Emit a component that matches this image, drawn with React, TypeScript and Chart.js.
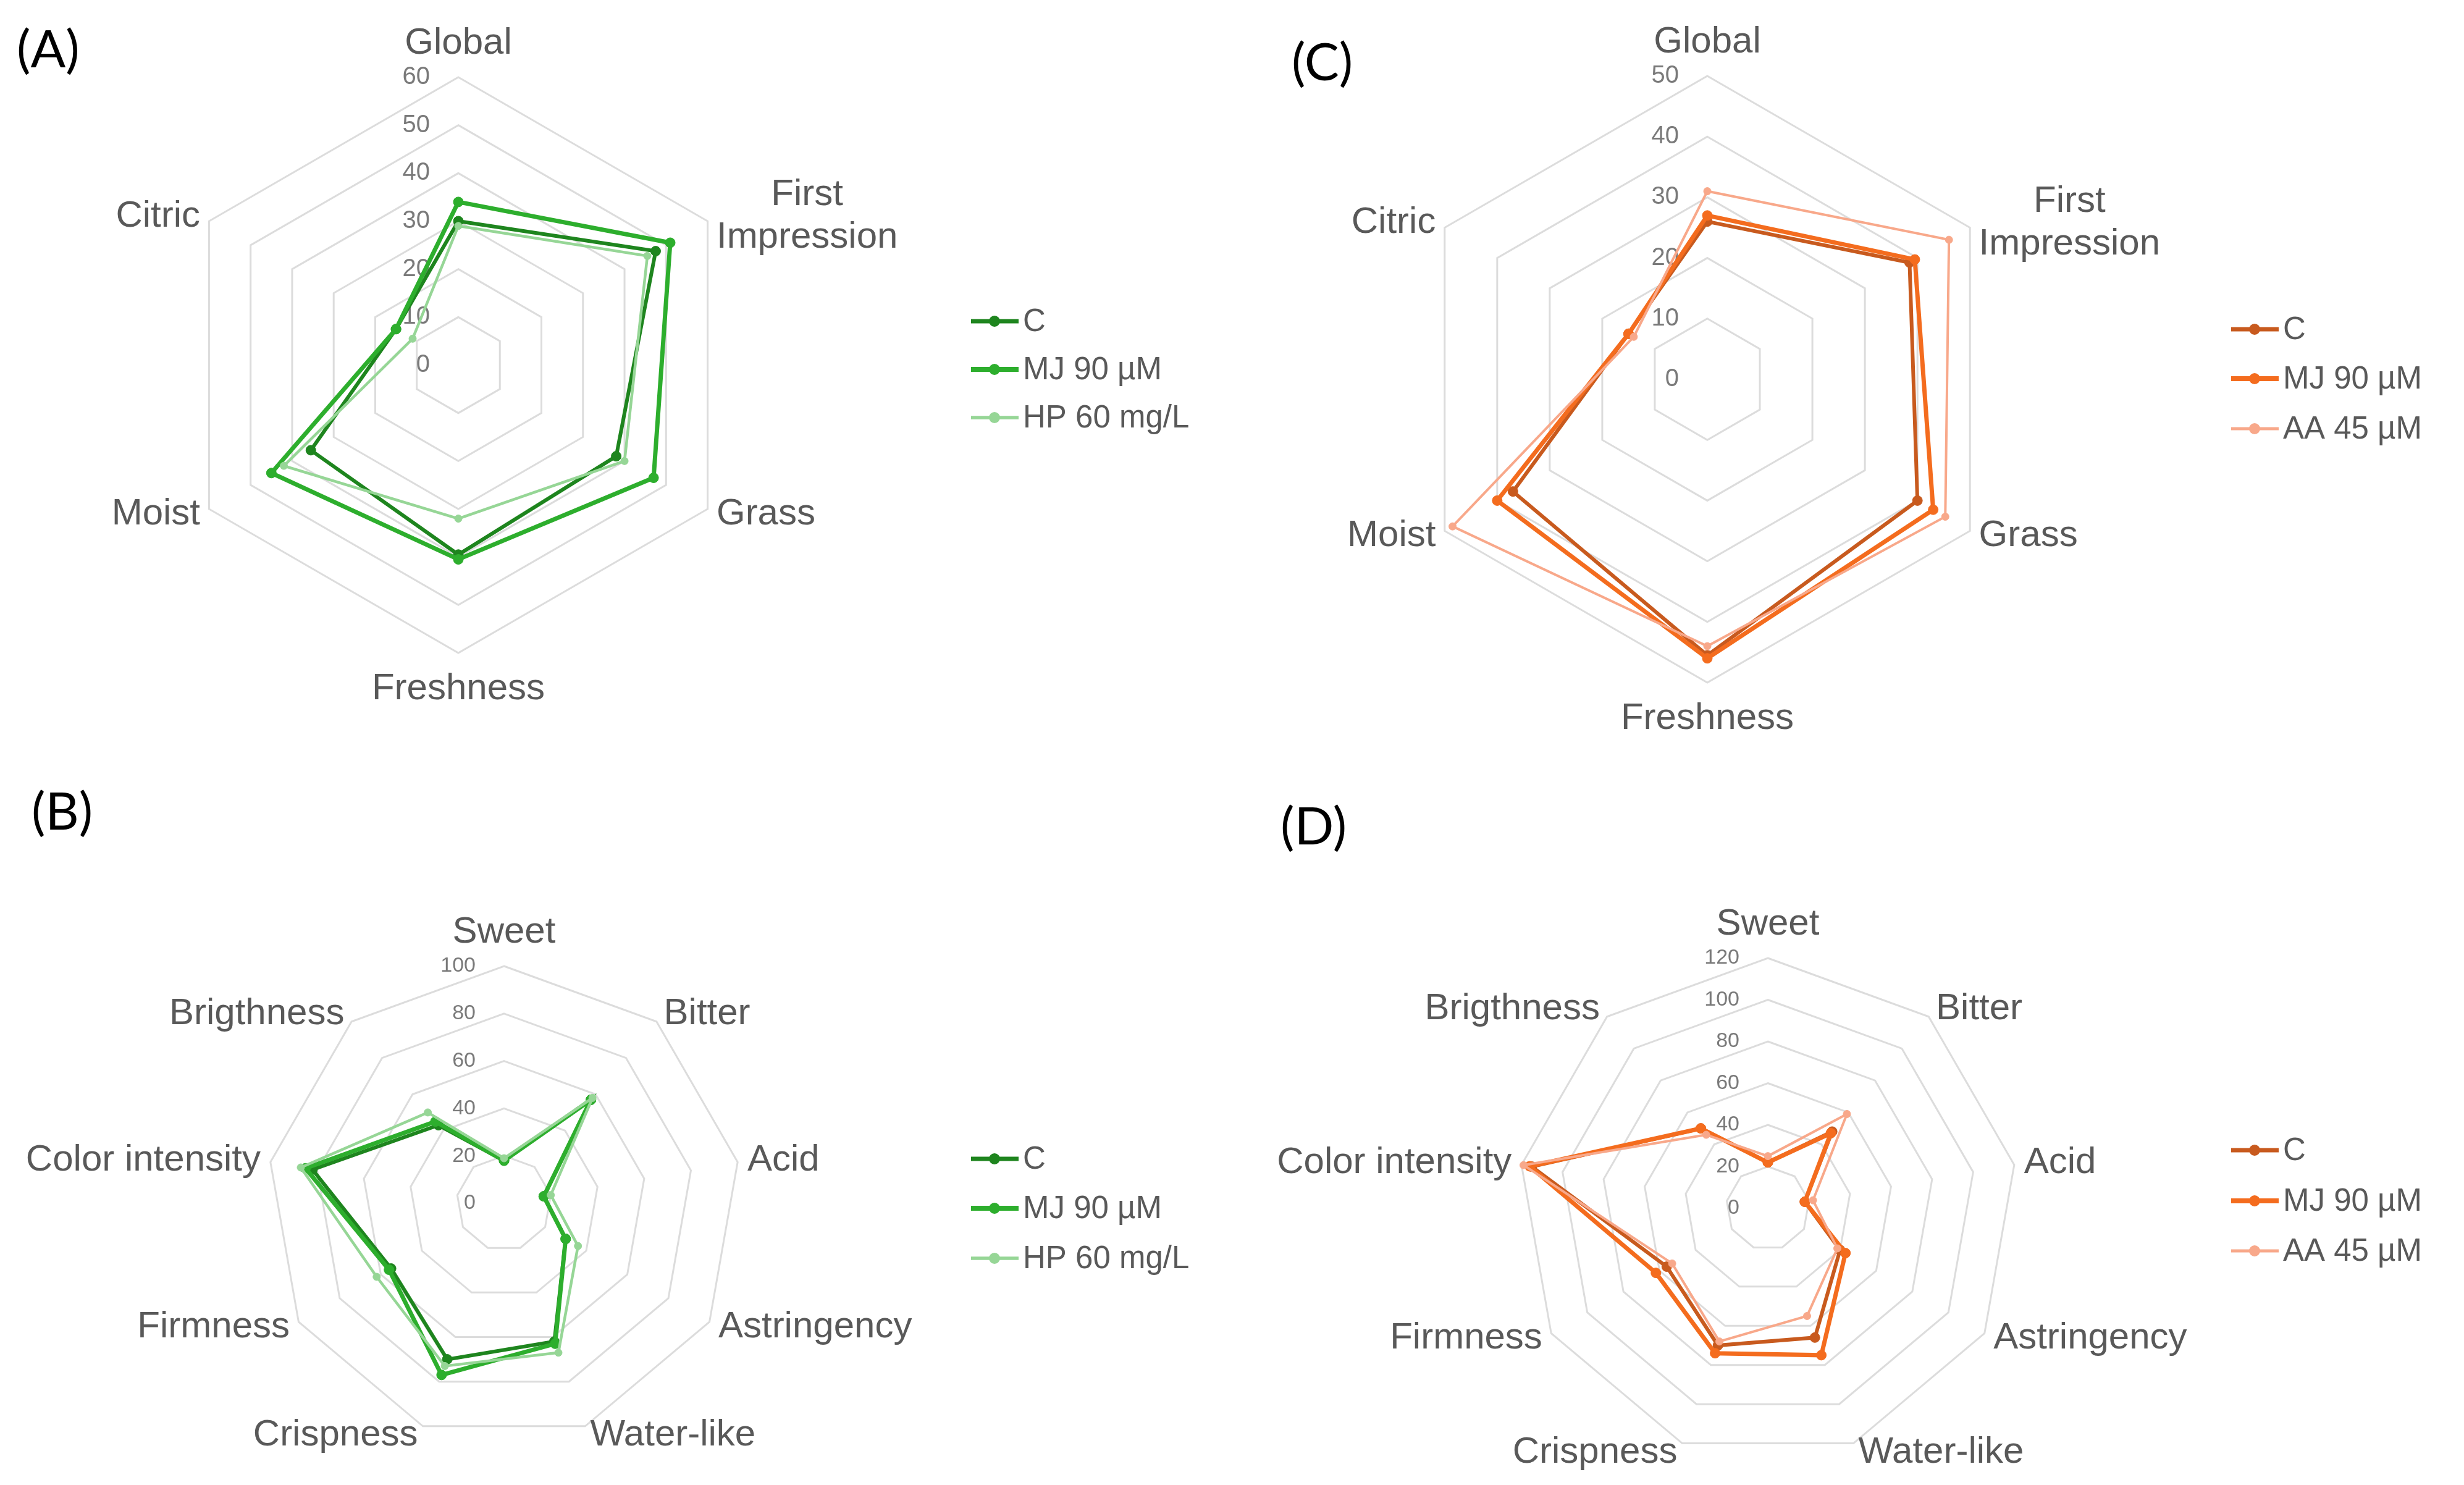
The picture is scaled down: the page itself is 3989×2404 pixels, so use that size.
import React, { useEffect, useRef } from 'react';
import { Chart, registerables } from 'chart.js';

Chart.register(...registerables);

// ---------------- data ----------------
const flavorAttributes: (string | string[])[] = ['Global', ['First', 'Impression'], 'Grass', 'Freshness', 'Moist', 'Citric'];
const textureAttributes: string[] = ['Sweet', 'Bitter', 'Acid', 'Astringency', 'Water-like', 'Crispness', 'Firmness', 'Color intensity', 'Brigthness'];

const greenSeriesNames = ['C', 'MJ 90 µM', 'HP 60 mg/L'];
const orangeSeriesNames = ['C', 'MJ 90 µM', 'AA 45 µM'];

// (A) flavour, green
const aControl = [30, 47.5, 38, 39.5, 35.5, 15];
const aMJ = [34, 51, 47, 40.5, 45, 15];
const aHP = [29, 45.5, 40, 32, 42, 11];

// (B) texture / taste, green
const bControl = [18, 57, 17, 30, 62, 70, 55, 82, 43];
const bMJ = [18, 57, 17, 30, 63, 77, 56, 85, 45];
const bHP = [19, 58, 20, 36, 67, 73, 62, 87, 50];

// (C) flavour, orange
const cControl = [26, 38.5, 40, 45.5, 37, 15];
const cMJ = [27, 39.5, 43, 46, 40, 15];
const cAA = [31, 46, 45.3, 44, 48.5, 14];

// (D) texture / taste, orange
const dControl = [22, 48, 18, 40, 66, 70, 56, 115, 50];
const dMJ = [22, 47, 18, 43, 75, 74, 62, 116, 50];
const dAA = [25, 59, 22, 38.5, 55, 68, 53, 119, 46];

const ticksA = [0, 10, 20, 30, 40, 50, 60];
const ticksB = [0, 20, 40, 60, 80, 100];
const ticksC = [0, 10, 20, 30, 40, 50];
const ticksD = [0, 20, 40, 60, 80, 100, 120];

const greenColors = ['#1E851E', '#2DAE2D', '#96D696'];
const orangeColors = ['#C85A1E', '#F46C1E', '#F8A88A'];

// ---------------- layout ----------------
type PanelCfg = {
  key: string;
  box: [number, number, number, number];
  center: [number, number];
  radius: number;
  labels: (string | string[])[];
  names: string[];
  values: number[][];
  colors: string[];
  widths: number[];
  ticks: number[];
  tickFont: number;
  legendX: number;
  legendY: number[];
};

const FONT = '"Liberation Sans", Arial, sans-serif';

const panels: PanelCfg[] = [
  {
    key: 'A', box: [0, 0, 1995, 1240], center: [742, 591], radius: 466,
    labels: flavorAttributes, names: greenSeriesNames, values: [aControl, aMJ, aHP],
    colors: greenColors, widths: [6, 7, 4.5], ticks: ticksA, tickFont: 40,
    legendX: 1572, legendY: [520, 598, 676],
  },
  {
    key: 'C', box: [1995, 0, 1994, 1240], center: [2764, 614], radius: 491,
    labels: flavorAttributes, names: orangeSeriesNames, values: [cControl, cMJ, cAA],
    colors: orangeColors, widths: [6, 7, 4], ticks: ticksC, tickFont: 40,
    legendX: 3612, legendY: [533, 613, 694],
  },
  {
    key: 'B', box: [0, 1240, 1995, 1164], center: [816, 1948], radius: 384,
    labels: textureAttributes, names: greenSeriesNames, values: [bControl, bMJ, bHP],
    colors: greenColors, widths: [6, 7, 4.5], ticks: ticksB, tickFont: 34,
    legendX: 1572, legendY: [1876, 1956, 2037],
  },
  {
    key: 'D', box: [1995, 1240, 1994, 1164], center: [2862, 1956], radius: 405,
    labels: textureAttributes, names: orangeSeriesNames, values: [dControl, dMJ, dAA],
    colors: orangeColors, widths: [6, 7, 4], ticks: ticksD, tickFont: 34,
    legendX: 3612, legendY: [1862, 1944, 2025],
  },
];

const letters = [
  { text: '(A)', x: 27, y: 77 },
  { text: '(C)', x: 2091, y: 98 },
  { text: '(B)', x: 51, y: 1311 },
  { text: '(D)', x: 2073, y: 1335 },
];

function RadarPanel({ cfg }: { cfg: PanelCfg }) {
  const ref = useRef<HTMLCanvasElement>(null);
  const [px, py, pw, ph] = cfg.box;

  useEffect(() => {
    const [cx, cy] = cfg.center;
    const R = cfg.radius;
    const labelSize = 60;
    const labelColor = '#595959';

    const decor = {
      id: 'radarDecor',
      beforeDatasetsDraw(chart: any) {
        const scale = chart.scales.r;
        const ctx = chart.ctx;
        ctx.save();
        ctx.font = `${cfg.tickFont}px ${FONT}`;
        ctx.fillStyle = '#7a7a7a';
        ctx.textAlign = 'right';
        ctx.textBaseline = 'middle';
        cfg.ticks.forEach((v) => {
          const d = scale.getDistanceFromCenterForValue(v);
          ctx.fillText(String(v), scale.xCenter - 46, scale.yCenter - d);
        });
        ctx.restore();
      },
      afterDraw(chart: any) {
        const scale = chart.scales.r;
        const ctx = chart.ctx;
        const Rd = scale.drawingArea;
        ctx.save();
        ctx.font = `${labelSize}px ${FONT}`;
        ctx.fillStyle = labelColor;
        const lh = labelSize * 1.15;
        cfg.labels.forEach((lab, i) => {
          const th = scale.getIndexAngle(i);
          const s = Math.sin(th);
          const c = Math.cos(th);
          const lines = Array.isArray(lab) ? lab : [lab];
          ctx.textBaseline = 'middle';
          if (Math.abs(s) < 0.01) {
            const p = scale.getPointPosition(i, Rd + (c > 0 ? 55 : 58));
            ctx.textAlign = 'center';
            lines.forEach((ln, k) => ctx.fillText(ln, p.x, p.y + (k - (lines.length - 1) / 2) * lh));
          } else {
            const p = scale.getPointPosition(i, Rd);
            const pad = 4 + 12 * Math.abs(s);
            const yMid = p.y - c * 16;
            const blockW = Math.max(...lines.map((ln) => ctx.measureText(ln).width));
            const left = s > 0 ? p.x + pad : p.x - pad - blockW;
            ctx.textAlign = 'center';
            lines.forEach((ln, k) =>
              ctx.fillText(ln, left + blockW / 2, yMid + (k - (lines.length - 1) / 2) * lh)
            );
          }
        });
        // legend
        const lx = cfg.legendX - px;
        ctx.font = `51px ${FONT}`;
        ctx.textAlign = 'left';
        ctx.textBaseline = 'middle';
        chart.data.datasets.forEach((ds: any, k: number) => {
          const ly = cfg.legendY[k] - py;
          ctx.strokeStyle = ds.borderColor;
          ctx.lineWidth = ds.borderWidth + 1;
          ctx.beginPath();
          ctx.moveTo(lx, ly);
          ctx.lineTo(lx + 77, ly);
          ctx.stroke();
          ctx.fillStyle = ds.borderColor;
          ctx.beginPath();
          ctx.arc(lx + 38, ly, 9, 0, Math.PI * 2);
          ctx.fill();
          ctx.fillStyle = labelColor;
          ctx.fillText(ds.label, lx + 84, ly + 2);
        });
        ctx.restore();
      },
    };

    const n = cfg.values.length;
    const chart = new Chart(ref.current as HTMLCanvasElement, {
      type: 'radar',
      data: {
        labels: cfg.labels as any,
        datasets: cfg.values.map((vals, k) => ({
          label: cfg.names[k],
          data: vals,
          borderColor: cfg.colors[k],
          backgroundColor: cfg.colors[k],
          pointBackgroundColor: cfg.colors[k],
          pointBorderColor: cfg.colors[k],
          borderWidth: cfg.widths[k],
          pointRadius: k === 2 ? 6 : 8,
          pointBorderWidth: 1,
          fill: false,
          tension: 0,
          order: n - k,
        })),
      },
      options: {
        responsive: false,
        animation: false,
        devicePixelRatio: 1,
        layout: {
          padding: {
            left: cx - px - R,
            right: px + pw - cx - R,
            top: cy - py - R,
            bottom: py + ph - cy - R,
          },
        },
        plugins: {
          legend: { display: false },
          tooltip: { enabled: false },
        },
        scales: {
          r: {
            min: 0,
            max: cfg.ticks[cfg.ticks.length - 1],
            ticks: { display: false, stepSize: cfg.ticks[1] - cfg.ticks[0] },
            grid: { color: '#dcdcdc', lineWidth: 3 },
            angleLines: { display: false },
            pointLabels: { display: false },
          },
        },
      } as any,
      plugins: [decor as any],
    });
    return () => chart.destroy();
  }, [cfg]);

  return (
    <canvas
      ref={ref}
      width={pw}
      height={ph}
      style={{ position: 'absolute', left: px, top: py, width: pw, height: ph }}
    />
  );
}

export default function App() {
  return (
    <div style={{ position: 'absolute', left: 0, top: 0, width: 3989, height: 2404, background: '#ffffff', overflow: 'hidden' }}>
      {panels.map((p) => (
        <RadarPanel key={p.key} cfg={p} />
      ))}
      {letters.map((l) => (
        <div
          key={l.text}
          style={{
            position: 'absolute',
            left: l.x,
            top: l.y - 45,
            fontFamily: 'Lato, "Open Sans", sans-serif',
            fontSize: 84,
            lineHeight: '90px',
            color: '#000',
          }}
        >
          {l.text}
        </div>
      ))}
    </div>
  );
}
